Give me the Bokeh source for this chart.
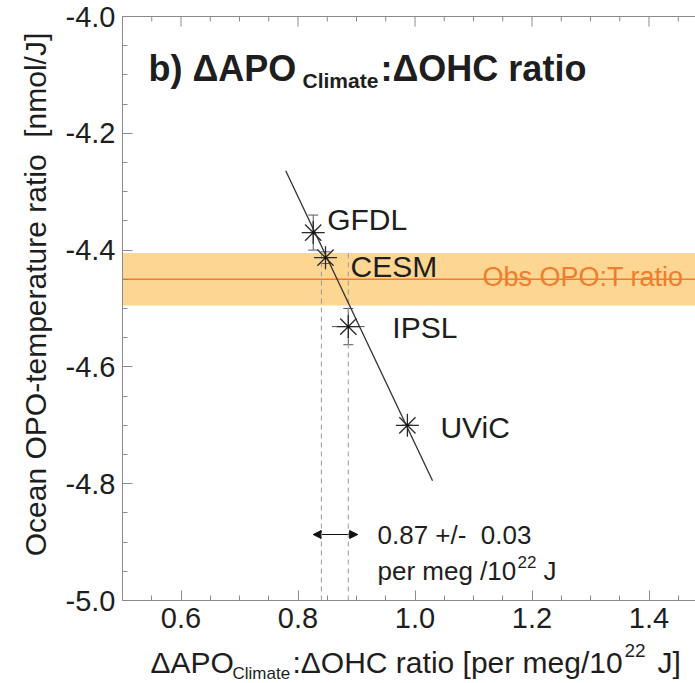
import numpy as np
from bokeh.plotting import figure
from bokeh.models import (Range1d, Label, Whisker, TeeHead, NormalHead,
                          BoxAnnotation, ColumnDataSource, FixedTicker)
from bokeh.core.properties import value
from bokeh.embed import file_html
from bokeh.resources import INLINE

# ---------------- data ----------------
models = ["GFDL", "CESM", "IPSL", "UViC"]
apo_ohc = [0.826, 0.847, 0.886, 0.987]        # dAPO_Climate:dOHC ratio
opo_t = [-4.370, -4.413, -4.531, -4.700]      # ocean OPO-temperature ratio
apo_err = [0.008, 0.008, 0.028, 0.0]
opo_err = [0.030, 0.010, 0.031, 0.0]

fit_x = [0.779, 1.030]
fit_y = [-4.264, -4.795]

obs_ratio = -4.45
obs_lo = -4.495
obs_hi = -4.405

cross_x = [0.840, 0.886]
est_lo = 0.826
est_hi = 0.902
est_y = -4.887

x_min, y_min, y_max = 0.5, -5.0, -4.0
x_ticks = [0.6, 0.8, 1.0, 1.2, 1.4]
x_tick_labels = ["0.6", "0.8", "1.0", "1.2", "1.4"]
x_minor = [0.55, 0.65, 0.7, 0.75, 0.85, 0.9, 0.95, 1.05, 1.1, 1.15, 1.25, 1.3, 1.35, 1.45]
y_ticks = [-5.0, -4.8, -4.6, -4.4, -4.2, -4.0]
y_tick_labels = ["-5.0", "-4.8", "-4.6", "-4.4", "-4.2", "-4.0"]
y_minor = [-4.95, -4.9, -4.85, -4.75, -4.7, -4.65, -4.55, -4.5, -4.45,
           -4.35, -4.3, -4.25, -4.15, -4.1, -4.05]

# ---------------- layout (canvas pixels -> data) ----------------
W, H = 695, 683
XPX, YPX = 585.0, 584.0          # pixels per data unit
FL, FT = 122, 16                 # pixel position of x=0.5 and y=-4.0
RX0 = x_min - FL / XPX
RX1 = RX0 + W / XPX
RY1 = y_max + FT / YPX
RY0 = RY1 - H / YPX


def dx(px):
    return RX0 + px / XPX


def dy(py):
    return RY1 - py / YPX


FONT = "Liberation Sans"
TXT = "#1e1e1e"
AX = "#8a8a8a"

p = figure(width=W, height=H, x_range=Range1d(RX0, RX1), y_range=Range1d(RY0, RY1),
           output_backend="svg", toolbar_location=None, min_border=0,
           min_border_left=0, min_border_right=0, min_border_top=0, min_border_bottom=0)
p.grid.visible = False
p.outline_line_color = None
p.background_fill_color = "white"
p.border_fill_color = "white"

xax, yax = p.xaxis[0], p.yaxis[0]
xax.fixed_location = y_min
xax.bounds = (x_min, RX1)
yax.fixed_location = x_min
yax.bounds = (y_min, y_max)
for ax, tk, labs in ((xax, FixedTicker(ticks=x_ticks, minor_ticks=x_minor), dict(zip(x_ticks, x_tick_labels))),
                     (yax, FixedTicker(ticks=y_ticks, minor_ticks=y_minor), dict(zip(y_ticks, y_tick_labels)))):
    ax.ticker = tk
    ax.major_label_overrides = labs
    ax.axis_line_color = AX
    ax.major_tick_line_color = AX
    ax.minor_tick_line_color = AX
    ax.major_tick_in = 10
    ax.major_tick_out = 0
    ax.minor_tick_in = 5
    ax.minor_tick_out = 0
    ax.major_label_text_font = FONT
    ax.major_label_text_font_size = "29px"
    ax.major_label_text_color = TXT
    ax.major_label_standoff = 7

# top frame line with inward ticks (mirrors the bottom axis)
p.segment(x0=[x_min], y0=[y_max], x1=[RX1], y1=[y_max], line_color=AX, line_width=1)
p.segment(x0=x_ticks, y0=[y_max] * len(x_ticks), x1=x_ticks, y1=[y_max - 10 / YPX] * len(x_ticks),
          line_color=AX, line_width=1)
p.segment(x0=x_minor, y0=[y_max] * len(x_minor), x1=x_minor, y1=[y_max - 5 / YPX] * len(x_minor),
          line_color=AX, line_width=1)

# observed band + line
p.add_layout(BoxAnnotation(left=x_min, bottom=obs_lo, top=obs_hi, fill_color="#fdd692", fill_alpha=1.0,
                           line_color=None, level="underlay"))
p.segment(x0=[x_min], y0=[obs_ratio], x1=[RX1], y1=[obs_ratio], line_color="#ef7d2d", line_width=1.5)
p.add_layout(Label(x=dx(482), y=dy(276), text="Obs OPO:T ratio", text_font=FONT,
                   text_font_size="27px", text_color="#ef7d2d", text_baseline="alphabetic"))

# dashed crossing lines
p.segment(x0=cross_x, y0=[y_min] * len(cross_x), x1=cross_x, y1=[obs_hi] * len(cross_x),
          line_color="#9a9a9a", line_dash="5 4", line_width=1)

# regression line
p.line(fit_x, fit_y, line_color="#333333", line_width=1.3)

src = ColumnDataSource(dict(
    x=apo_ohc, y=opo_t, name=models,
    ylo=[y - e for y, e in zip(opo_t, opo_err)], yhi=[y + e for y, e in zip(opo_t, opo_err)],
    xlo=[x - e for x, e in zip(apo_ohc, apo_err)], xhi=[x + e for x, e in zip(apo_ohc, apo_err)],
))

p.add_layout(Whisker(source=src, base="x", lower="ylo", upper="yhi", dimension="height",
                     line_color="#555555", line_width=1,
                     upper_head=TeeHead(size=10, line_color="#555555", line_width=1),
                     lower_head=TeeHead(size=10, line_color="#555555", line_width=1)))
p.add_layout(Whisker(source=src, base="y", lower="xlo", upper="xhi", dimension="width",
                     line_color="#555555", line_width=1, upper_head=None, lower_head=None))

p.scatter("x", "y", source=src, marker="asterisk", size=23, line_color="#2a2a2a", line_width=1.3)
p.scatter("x", "y", source=src, marker="circle", size=3, fill_color="#111111", line_color=None)

label_dx = [14, 25, 44, 33]
label_dy = [-13, 9, 1, 2]
src_lab = ColumnDataSource(dict(x=apo_ohc, y=opo_t, name=models, xo=label_dx, yo=label_dy))
p.text("x", "y", text="name", source=src_lab, x_offset="xo", y_offset="yo",
       text_font=value(FONT), text_font_size="30px", text_color=TXT,
       text_baseline="middle", text_align="left")

# estimated range bar
est = ColumnDataSource(dict(b=[est_y], lo=[est_lo], hi=[est_hi]))
p.add_layout(Whisker(source=est, base="b", lower="lo", upper="hi", dimension="width",
                     line_color="#111111", line_width=1.2,
                     upper_head=NormalHead(size=8, fill_color="#111111", line_color="#111111"),
                     lower_head=NormalHead(size=8, fill_color="#111111", line_color="#111111")))


def lab(px, py, text, size, bold=False, color=TXT, align="left", baseline="alphabetic", angle=0.0):
    p.add_layout(Label(x=dx(px), y=dy(py), text=text, text_font=FONT, text_font_size=f"{size}px",
                       text_font_style="bold" if bold else "normal", text_color=color,
                       text_align=align, text_baseline=baseline, angle=angle))


NB = "\u00a0"
lab(377, 534, f"0.87 +/-{NB}{NB}0.03", 26, baseline="middle")
lab(377, 570, "per meg /10", 26, baseline="middle")
lab(517, 561, "22", 17, baseline="middle")
lab(543, 570, "J", 26, baseline="middle")

# title
lab(148, 68, "b) \u0394APO", 36, bold=True)
lab(302, 80, "Climate", 21, bold=True)
lab(380, 68, ":\u0394OHC ratio", 36, bold=True)

# x-axis label
lab(150, 662, "\u0394APO", 30)
lab(232, 673, "Climate", 17)
lab(292, 662, ":\u0394OHC ratio [per meg/10", 30)
lab(624, 650, "22", 19)
lab(657, 662, "J]", 30)

# y-axis label
lab(35, 294, f"Ocean OPO-temperature ratio{NB}{NB}[nmol/J]", 30, align="center", baseline="middle",
    angle=np.pi / 2)

open("out.html", "w").write(file_html(p, INLINE))
